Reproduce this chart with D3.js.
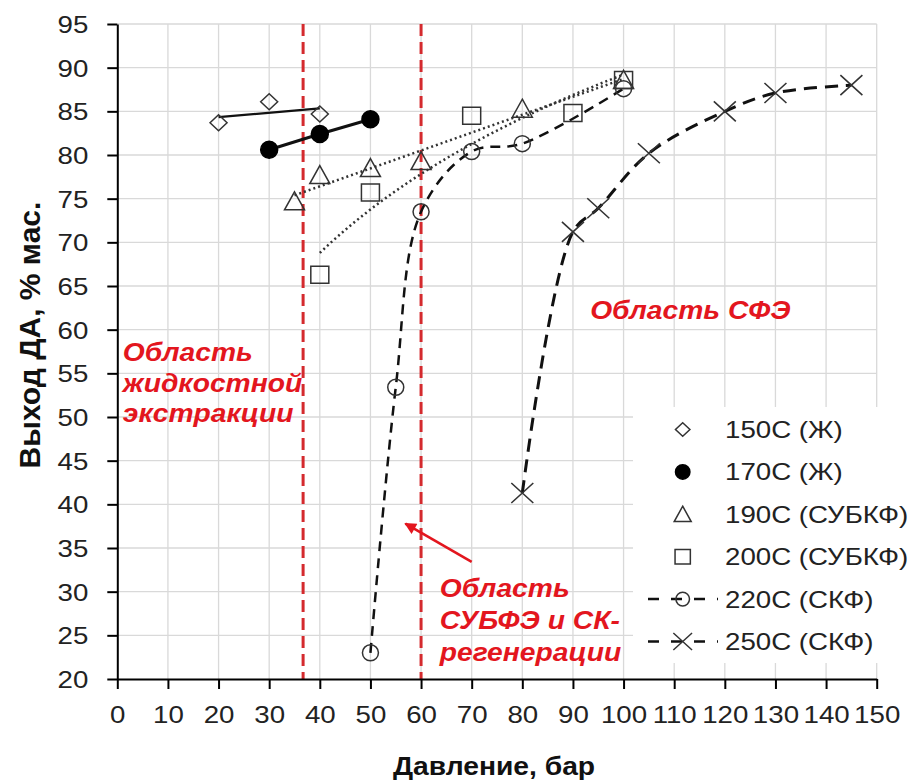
<!DOCTYPE html>
<html><head><meta charset="utf-8">
<script src="https://cdn.jsdelivr.net/npm/d3@7"></script>
<style>body{margin:0;background:#fff}svg{display:block}text{font-family:"Liberation Sans",Arial,sans-serif}</style>
</head><body><svg id="c" width="917" height="781"></svg>
<script>
// ---------- data ----------
const xTickValues = [0,10,20,30,40,50,60,70,80,90,100,110,120,130,140,150];
const yTickValues = [20,25,30,35,40,45,50,55,60,65,70,75,80,85,90,95];

const x150 = [20,30,40];           const y150 = [83.7,86.1,84.7];
const x170 = [30,40,50];           const y170 = [80.6,82.4,84.1];
const x190 = [35,40,50,60,80,100]; const y190 = [74.7,77.7,78.5,79.3,85.3,88.6];
const x200 = [40,50,70,90,100];    const y200 = [66.3,75.7,84.5,84.8,88.6];
const x220 = [50,55,60,70,80,100]; const y220 = [23.0,53.4,73.5,80.4,81.3,87.6];
const x250 = [80,90,95,105,120,130,145]; const y250 = [41.3,71.2,73.9,80.2,85.0,87.1,88.0];

const legendLabels = ["150С (Ж)","170С (Ж)","190С (СУБКФ)","200С (СУБКФ)","220С (СКФ)","250С (СКФ)"];
const boundaryPressures = [36.7, 60];
const xTitle = "Давление, бар";
const yTitle = "Выход ДА, % мас.";
const noteLiquid = ["Область","жидкостной","экстракции"];
const noteSub = ["Область","СУБФЭ и СК-","регенерации"];
const noteSCF = "Область СФЭ";

// ---------- setup ----------
const svg = d3.select("#c");
const W = 917, H = 781;
const x = d3.scaleLinear().domain([0,150]).range([117.3,876.7]);
const y = d3.scaleLinear().domain([20,95]).range([679,24]);
const SX = 1.13;
const RED = "#e3161e";
const INK = "#222";

function txt(parent, px, py, s, o={}) {
  return parent.append("text")
    .attr("transform", `translate(${px},${py}) scale(${SX},1)`)
    .attr("font-size", o.size||24)
    .attr("font-weight", o.weight||"normal")
    .attr("font-style", o.style||"normal")
    .attr("text-anchor", o.anchor||"start")
    .attr("fill", o.fill||INK)
    .text(s);
}

// ---------- grid ----------
const grid = svg.append("g").attr("stroke","#d9d9d9").attr("stroke-width",1.3);
grid.selectAll(".gx").data(xTickValues.slice(1)).join("line")
  .attr("x1",d=>x(d)).attr("x2",d=>x(d)).attr("y1",y(20)).attr("y2",y(95));
grid.selectAll(".gy").data(yTickValues.slice(1)).join("line")
  .attr("x1",x(0)).attr("x2",x(150)).attr("y1",d=>y(d)).attr("y2",d=>y(d));

// ---------- red boundary lines ----------
svg.append("g").selectAll("line").data(boundaryPressures).join("line")
  .attr("x1",d=>x(d)).attr("x2",d=>x(d)).attr("y1",y(95)).attr("y2",y(20))
  .attr("stroke","#d42a2e").attr("stroke-width",3).attr("stroke-dasharray","12,6");

// ---------- helpers ----------
function linFit(xs, ys) {
  const n = xs.length, mx = d3.mean(xs), my = d3.mean(ys);
  let sxy=0, sxx=0;
  for (let i=0;i<n;i++){ sxy+=(xs[i]-mx)*(ys[i]-my); sxx+=(xs[i]-mx)**2; }
  const a = sxy/sxx; return v => my + a*(v-mx);
}
function logFit(xs, ys) {
  const lx = xs.map(Math.log); const f = linFit(lx, ys);
  return v => f(Math.log(v));
}
const line = d3.line().x(d=>x(d[0])).y(d=>y(d[1]));
const smooth = d3.line().x(d=>x(d[0])).y(d=>y(d[1])).curve(d3.curveCatmullRom.alpha(0.5));
const zip = (a,b) => a.map((v,i)=>[v,b[i]]);

const lines = svg.append("g").attr("fill","none");
// 150C linear trend
{
  const f = linFit(x150,y150);
  const ext = d3.extent(x150);
  lines.append("path").attr("d", line(ext.map(v=>[v,f(v)])))
    .attr("stroke","#111").attr("stroke-width",2.2);
}
// 170C connecting line
lines.append("path").attr("d", line(zip(x170,y170))).attr("stroke","#111").attr("stroke-width",3);
// 190C linear trend (dotted)
{
  const f = linFit(x190,y190); const ext = d3.extent(x190);
  lines.append("path").attr("d", line(ext.map(v=>[v,f(v)])))
    .attr("stroke","#333").attr("stroke-width",2.5).attr("stroke-dasharray","2,3");
}
// 200C log trend (dotted)
{
  const f = logFit(x200,y200); const ext = d3.extent(x200);
  const pts = d3.range(0,61).map(i=>{const v=ext[0]+(ext[1]-ext[0])*i/60; return [v,f(v)];});
  lines.append("path").attr("d", line(pts))
    .attr("stroke","#333").attr("stroke-width",2.5).attr("stroke-dasharray","2,3");
}
// 220C smooth dashed
lines.append("path").attr("d", smooth(zip(x220,y220)))
  .attr("stroke","#111").attr("stroke-width",2.5).attr("stroke-dasharray","10,7");
// 250C smooth dashed
lines.append("path").attr("d", smooth(zip(x250,y250)))
  .attr("stroke","#111").attr("stroke-width",3).attr("stroke-dasharray","13,8");

// ---------- markers ----------
const shapes = {
  diamond: k => `M0,${-8*k}L${8.5*k},0L0,${8*k}L${-8.5*k},0Z`,
  dot: k => d3.symbol(d3.symbolCircle, Math.PI*(8.5*k)**2)(),
  triangle: k => `M0,${-9.5*k}L${10*k},${8.5*k}L${-10*k},${8.5*k}Z`,
  square: k => `M${-9*k},${-8.5*k}H${9*k}V${8.5*k}H${-9*k}Z`,
  circle: k => d3.symbol(d3.symbolCircle, Math.PI*(8*k)**2)(),
  cross: k => `M${-11*k},${-10*k}L${11*k},${10*k}M${-11*k},${10*k}L${11*k},${-10*k}`
};
const seriesDefs = [
  {xs:x150, ys:y150, shape:"diamond", fill:"none"},
  {xs:x170, ys:y170, shape:"dot", fill:"#000"},
  {xs:x190, ys:y190, shape:"triangle", fill:"none"},
  {xs:x200, ys:y200, shape:"square", fill:"none"},
  {xs:x220, ys:y220, shape:"circle", fill:"none"},
  {xs:x250, ys:y250, shape:"cross", fill:"none"}
];
const mk = svg.append("g");
seriesDefs.forEach(s=>{
  mk.append("g").selectAll("path").data(zip(s.xs,s.ys)).join("path")
    .attr("transform",d=>`translate(${x(d[0])},${y(d[1])})`)
    .attr("d", shapes[s.shape](1))
    .attr("fill", s.fill).attr("stroke", s.fill==="none" ? "#333" : "#000")
    .attr("stroke-width", s.shape==="cross" ? 1.6 : 1.5);
});

// ---------- legend ----------
const lg = svg.append("g");
lg.append("rect").attr("x",633).attr("y",407).attr("width",W-633).attr("height",256).attr("fill","#fff");
legendLabels.forEach((lab,i)=>{
  const cy = 429.5 + i*42.4, cx = 682.7;
  const s = seriesDefs[i];
  if (i>=4) {
    lg.append("line").attr("x1",648).attr("x2",718).attr("y1",cy).attr("y2",cy)
      .attr("stroke","#111").attr("stroke-width",2.5).attr("stroke-dasharray","11,12");
  }
  lg.append("path").attr("transform",`translate(${cx},${cy})`)
    .attr("d", shapes[s.shape](0.85))
    .attr("fill", s.fill).attr("stroke", s.fill==="none" ? "#333" : "#000").attr("stroke-width",1.5);
  txt(lg, 725, cy+8.5, lab, {size:24.5});
});

// ---------- annotations ----------
const ann = svg.append("g");
const annOpt = {size:25, weight:"bold", style:"italic", fill:RED};
noteLiquid.forEach((t,i)=> txt(ann, x(1.1), y(56.4)+i*30.5, t, annOpt));
noteSub.forEach((t,i)=> txt(ann, x(63.7), y(29.4)+i*32, t, annOpt));
txt(ann, x(93.4), y(61.2), noteSCF, annOpt);
svg.append("defs").append("marker").attr("id","ah").attr("viewBox","0 0 10 10")
  .attr("refX",9).attr("refY",5).attr("markerWidth",5).attr("markerHeight",4.5)
  .attr("orient","auto").attr("markerUnits","strokeWidth")
  .append("path").attr("d","M0,0L10,5L0,10Z").attr("fill",RED);
ann.append("line").attr("x1",x(70.0)).attr("y1",y(33.4)).attr("x2",x(56.9)).attr("y2",y(37.8))
  .attr("stroke",RED).attr("stroke-width",2.6).attr("marker-end","url(#ah)");

// ---------- axes ----------
const ax = svg.append("g").attr("transform",`translate(0,${y(20)})`)
  .call(d3.axisBottom(x).tickValues(xTickValues).tickSize(10).tickSizeOuter(0).tickFormat(d3.format("d")));
ax.select(".domain").attr("stroke","#000").attr("stroke-width",2);
ax.selectAll(".tick line").attr("stroke","#000").attr("stroke-width",2);
ax.selectAll(".tick text").attr("y",0).attr("dy",null)
  .attr("transform",`translate(0,44) scale(${SX},1)`).attr("font-size",24.5)
  .attr("font-family","Liberation Sans, Arial, sans-serif").attr("fill",INK);

const ay = svg.append("g").attr("transform",`translate(${x(0)},0)`)
  .call(d3.axisLeft(y).tickValues(yTickValues).tickSize(10).tickSizeOuter(0).tickFormat(d3.format("d")));
ay.select(".domain").attr("stroke","#000").attr("stroke-width",2);
ay.selectAll(".tick line").attr("stroke","#000").attr("stroke-width",2);
ay.selectAll(".tick text").attr("x",0).attr("dy",null)
  .attr("transform",`translate(-29,8.5) scale(${SX},1)`).attr("font-size",24.5)
  .attr("font-family","Liberation Sans, Arial, sans-serif").attr("fill",INK);

// ---------- titles ----------
txt(svg, 494, 775, xTitle, {size:25, weight:"bold", anchor:"middle", fill:"#111"});
svg.append("text")
  .attr("transform",`translate(40,335) rotate(-90)`)
  .attr("font-size",30).attr("font-weight","bold").attr("text-anchor","middle").attr("fill","#111")
  .text(yTitle);
</script></body></html>
